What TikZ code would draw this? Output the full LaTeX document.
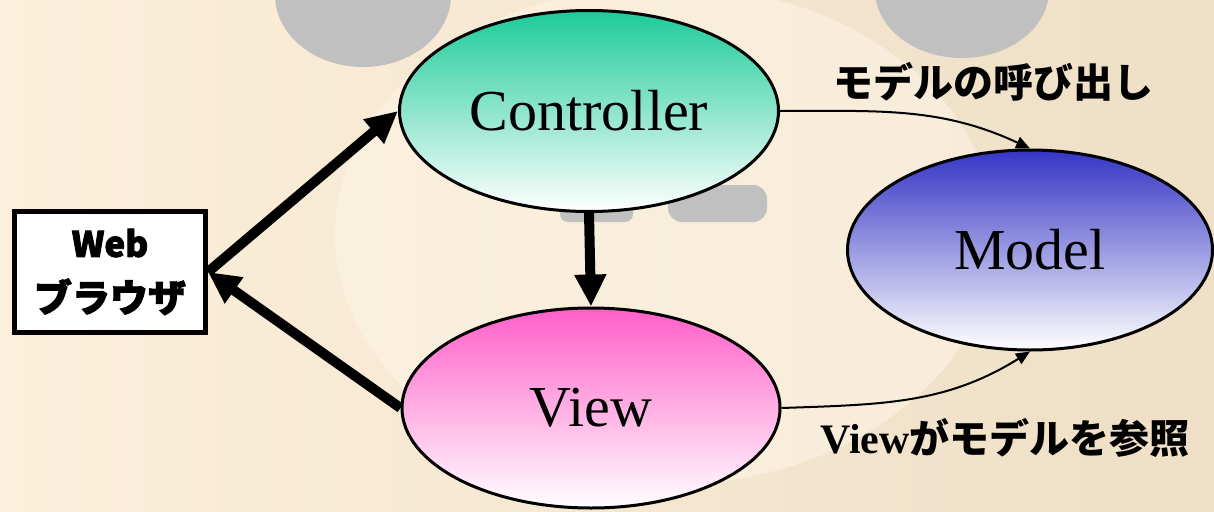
\documentclass[tikz,border=0pt]{standalone}
\usepackage{fontspec}
\setmainfont{Liberation Serif}
\newfontfamily\jp{Noto Sans CJK JP}
\newfontfamily\jpheavy{Noto Sans CJK JP}[BoldFeatures={FakeBold=2.5}]
\usetikzlibrary{shapes.geometric,arrows.meta}
\definecolor{bgL}{HTML}{FCEFDB}
\definecolor{bgR}{HTML}{EEDFC6}
\definecolor{facecol}{HTML}{FCF4E4}
\definecolor{eyegray}{HTML}{C0C0C0}
\definecolor{ctrltop}{HTML}{1DCB98}
\definecolor{viewtop}{HTML}{FF5FC8}
\definecolor{modeltop}{HTML}{3535C5}
\begin{document}
\begin{tikzpicture}[x=1pt,y=-1pt,
  mvc/.style={ellipse,draw=black,line width=3pt,inner sep=0pt,
    font=\fontsize{58}{60}\selectfont},
  webbox/.style={rectangle,draw=black,fill=white,line width=5pt,inner sep=0pt,
    minimum width=191pt,minimum height=121pt,align=center,
    font=\jpheavy\bfseries\fontsize{38}{57}\selectfont},
  bigarrow/.style={line width=10pt,-{Triangle[length=32pt,width=30pt]}},
  thinarrow/.style={line width=2pt,-{Triangle[length=14pt,width=12pt]}},
  lab/.style={inner sep=0pt,font=\jp\bfseries\fontsize{40}{44}\selectfont}]
\useasboundingbox (0,0) rectangle (1214,511);
% background
\shade[left color=bgL,right color=bgR] (0,0) rectangle (1214,511);
\fill[facecol,opacity=0.6] (665,235) ellipse [x radius=330, y radius=250];
\fill[eyegray] (363,-5) ellipse [x radius=88, y radius=72];
\fill[eyegray] (962,-10) ellipse [x radius=87, y radius=68];
\fill[eyegray,rounded corners=14pt] (668,185) rectangle (767,222);
\fill[eyegray,rounded corners=8pt] (560,200) rectangle (633,222);
% nodes
\node[mvc,minimum width=379pt,minimum height=201pt,top color=ctrltop,bottom color=white]
  (ctrl) at (589,111) {Controller};
\node[mvc,minimum width=378pt,minimum height=200pt,top color=viewtop,bottom color=white]
  (view) at (591,408) {View};
\node[mvc,minimum width=365pt,minimum height=200pt,top color=modeltop,bottom color=white]
  (model) at (1030,250) {Model};
\node[webbox] (web) at (110,272)
  {{\fontsize{35}{57}\selectfont Web}\\[-2pt]ブラウザ};
% labels
\node[lab] (lab1) at (993,82) {モデルの呼び出し};
\node[lab] (lab2) at (1005,438)
  {{\rmfamily\bfseries\fontsize{42}{44}\selectfont View}がモデルを参照};
% connectors
\draw[bigarrow] (web.east) -- (ctrl.west);
\draw[bigarrow] (view.west) -- (web.east);
\draw[bigarrow] (ctrl.south) -- (view.north);
\draw[thinarrow] (ctrl.east) to[out=0,in=155] (model.north);
\draw[thinarrow] (view.east) to[out=2,in=212] (model.south);
\end{tikzpicture}
\end{document}
